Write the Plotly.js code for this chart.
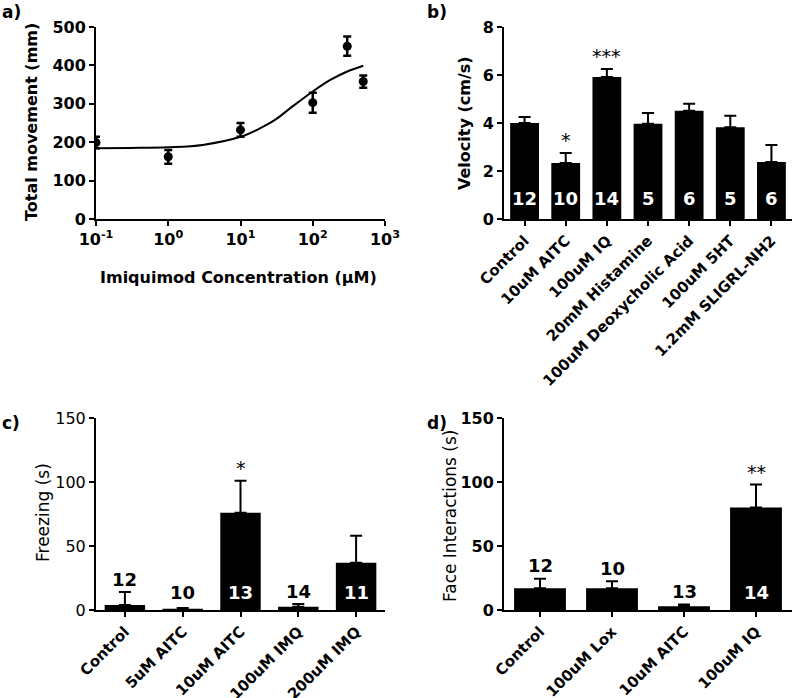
<!DOCTYPE html>
<html>
<head>
<meta charset="utf-8">
<script src="https://cdn.plot.ly/plotly-3.0.1.min.js"></script>
<style>
html,body{margin:0;padding:0;background:#fff;}
#chart{width:793px;height:698px;}
</style>
</head>
<body>
<div id="chart"></div>
<script>
// ---- Panel a: dose response ----
const aConc = [0.1, 1, 10, 100, 300, 500];
const aMove = [199, 162, 232, 303, 450, 358];
const aErr = [15, 18, 18, 26, 25, 16];
const aFitConc = [0.1, 0.3, 1, 3, 10, 20, 30, 50, 100, 175, 300, 500];
const aFitMove = [184, 185, 187, 193, 214, 239, 258, 290, 332, 362, 384, 399];
const aTickVals = [0.1, 1, 10, 100, 1000];
const aTickText = ['10<sup>-1</sup>', '10<sup>0</sup>', '10<sup>1</sup>', '10<sup>2</sup>', '10<sup>3</sup>'];

// ---- Panel b: velocity ----
const bCats = ['Control', '10uM AITC', '100uM IQ', '20mM Histamine', '100uM Deoxycholic Acid', '100uM 5HT', '1.2mM SLIGRL-NH2'];
const bVel = [4.0, 2.33, 5.92, 3.97, 4.51, 3.82, 2.37];
const bErr = [0.25, 0.42, 0.33, 0.45, 0.29, 0.48, 0.71];
const bN = [12, 10, 14, 5, 6, 5, 6];
const bSig = ['', '*', '***', '', '', '', ''];

// ---- Panel c: freezing ----
const cCats = ['Control', '5uM AITC', '10uM AITC', '100uM IMQ', '200uM IMQ'];
const cFreeze = [4, 1, 76, 2.6, 37];
const cErr = [10, 0.5, 25, 2, 21];
const cN = [12, 10, 13, 14, 11];
const cSig = ['', '', '*', '', ''];

// ---- Panel d: face interactions ----
const dCats = ['Control', '100uM Lox', '10uM AITC', '100uM IQ'];
const dFace = [17, 17, 3, 80];
const dErr = [7.5, 5.5, 1.3, 18];
const dN = [12, 10, 13, 14];
const dSig = ['', '', '', '**'];

const W = 793, H = 698;
const FONT = 'DejaVu Sans';
const px2x = p => p / W;
const px2y = p => 1 - p / H;

// plot-area pixel boxes
const boxA = {x0: 96, x1: 385, y0: 27, y1: 219};
const boxB = {x0: 504, x1: 792, y0: 27, y1: 219};
const boxC = {x0: 96, x1: 385, y0: 418, y1: 610};
const boxD = {x0: 504, x1: 792, y0: 418, y1: 610};

function axisBase(box, isX) {
  return {
    domain: isX ? [px2x(box.x0), px2x(box.x1)] : [px2y(box.y1), px2y(box.y0)],
    showline: true, linecolor: '#000', linewidth: 2,
    ticks: 'outside', ticklen: 5, tickwidth: 2, tickcolor: '#000',
    showgrid: false, zeroline: false, fixedrange: true
  };
}

const traces = [];
// a
traces.push({
  x: aFitConc, y: aFitMove, xaxis: 'x', yaxis: 'y', type: 'scatter', mode: 'lines',
  line: {color: '#000', width: 2, shape: 'spline'}, hoverinfo: 'skip', showlegend: false
});
traces.push({
  x: aConc, y: aMove, xaxis: 'x', yaxis: 'y', type: 'scatter', mode: 'markers',
  marker: {color: '#000', size: 9},
  error_y: {type: 'data', array: aErr, visible: true, color: '#000', thickness: 2.5, width: 4},
  showlegend: false
});

function barTrace(cats, vals, errs, xa, ya, width) {
  return {
    x: cats, y: vals, xaxis: xa, yaxis: ya, type: 'bar', width: width,
    marker: {color: '#000', line: {width: 0}},
    error_y: {type: 'data', array: errs, arrayminus: errs.map(() => 0), symmetric: false,
      visible: true, color: '#000', thickness: 2, width: 6},
    showlegend: false
  };
}
traces.push(barTrace(bCats, bVel, bErr, 'x2', 'y2', 0.70));
traces.push(barTrace(cCats, cFreeze, cErr, 'x3', 'y3', 0.70));
traces.push(barTrace(dCats, dFace, dErr, 'x4', 'y4', 0.72));

const tickBold = {family: FONT, size: 16, color: '#000', weight: 'bold'};
const tickReg = {family: FONT, size: 16, color: '#000'};
const catFont = {family: FONT, size: 15, color: '#000', weight: 'bold'};

const layout = {
  width: W, height: H,
  margin: {l: 0, r: 0, t: 0, b: 0, pad: 0},
  paper_bgcolor: '#fff', plot_bgcolor: '#fff',
  showlegend: false, bargap: 0.3,
  xaxis: Object.assign(axisBase(boxA, true), {
    type: 'log', range: [-1, 3], tickvals: aTickVals, ticktext: aTickText,
    tickfont: tickBold, anchor: 'y'
  }),
  yaxis: Object.assign(axisBase(boxA, false), {
    range: [0, 500], dtick: 100, tickfont: tickBold, anchor: 'x'
  }),
  xaxis2: Object.assign(axisBase(boxB, true), {
    type: 'category', range: [-0.5, bCats.length - 0.5], tickangle: -45, tickfont: catFont, anchor: 'y2'
  }),
  yaxis2: Object.assign(axisBase(boxB, false), {
    range: [0, 8], dtick: 2, tickfont: tickBold, anchor: 'x2'
  }),
  xaxis3: Object.assign(axisBase(boxC, true), {
    type: 'category', range: [-0.5, cCats.length - 0.5], tickangle: -45, tickfont: catFont, anchor: 'y3'
  }),
  yaxis3: Object.assign(axisBase(boxC, false), {
    range: [0, 150], dtick: 50, tickfont: tickReg, anchor: 'x3'
  }),
  xaxis4: Object.assign(axisBase(boxD, true), {
    type: 'category', range: [-0.5, dCats.length - 0.5], tickangle: -45, tickfont: catFont, anchor: 'y4'
  }),
  yaxis4: Object.assign(axisBase(boxD, false), {
    range: [0, 150], dtick: 50, tickfont: tickBold, anchor: 'x4'
  }),
  annotations: []
};

const ann = layout.annotations;
function textAnn(text, xpx, ypx, font, opts) {
  ann.push(Object.assign({
    text: text, xref: 'paper', yref: 'paper', x: px2x(xpx), y: px2y(ypx),
    xanchor: 'center', yanchor: 'middle', showarrow: false, font: font
  }, opts || {}));
}
// panel letters
const letterFont = {family: FONT, size: 17, color: '#000', weight: 'bold'};
textAnn('a)', 0, 0, letterFont, {xanchor: 'left', yanchor: 'top'});
textAnn('b)', 425, 0, letterFont, {xanchor: 'left', yanchor: 'top'});
textAnn('c)', 0, 411, letterFont, {xanchor: 'left', yanchor: 'top'});
textAnn('d)', 425, 411, letterFont, {xanchor: 'left', yanchor: 'top'});
// axis titles
const titleBold = {family: FONT, size: 16, color: '#000', weight: 'bold'};
const titleReg = {family: FONT, size: 17, color: '#000'};
textAnn('Total movement (mm)', 32, 122, titleBold, {textangle: -90});
textAnn('Imiquimod Concentration (\u03bcM)', 238, 277, titleBold);
textAnn('Velocity (cm/s)', 465, 123, titleBold, {textangle: -90});
textAnn('Freezing (s)', 43, 513, titleReg, {textangle: -90});
textAnn('Face Interactions (s)', 450, 516, titleReg, {textangle: -90});

// n labels and significance markers
function barLabels(cats, vals, errs, ns, sigs, box, ymax, xa, ya, insidePx) {
  const ppu = (box.y1 - box.y0) / ymax;
  const nFont = {family: FONT, size: 18, color: '#fff', weight: 'bold'};
  cats.forEach((c, i) => {
    const barPx = vals[i] * ppu;
    const errTopPx = (vals[i] + errs[i]) * ppu;
    let centerPx, color;
    if (barPx > 2 * insidePx) { centerPx = insidePx; color = '#fff'; }
    else { centerPx = Math.max(insidePx, errTopPx + 13); color = '#000'; }
    ann.push({
      text: String(ns[i]), xref: xa, yref: ya, x: c, y: centerPx / ppu,
      xanchor: 'center', yanchor: 'middle', showarrow: false,
      font: Object.assign({}, nFont, {color: color})
    });
    if (sigs[i]) {
      ann.push({
        text: sigs[i], xref: xa, yref: ya, x: c, y: vals[i] + errs[i],
        xanchor: 'center', yanchor: 'bottom', showarrow: false,
        font: {family: FONT, size: 19, color: '#000'}
      });
    }
  });
}
barLabels(bCats, bVel, bErr, bN, bSig, boxB, 8, 'x2', 'y2', 21);
barLabels(cCats, cFreeze, cErr, cN, cSig, boxC, 150, 'x3', 'y3', 17.5);
barLabels(dCats, dFace, dErr, dN, dSig, boxD, 150, 'x4', 'y4', 17.5);

Plotly.newPlot('chart', traces, layout, {staticPlot: true, displayModeBar: false});
</script>
</body>
</html>
